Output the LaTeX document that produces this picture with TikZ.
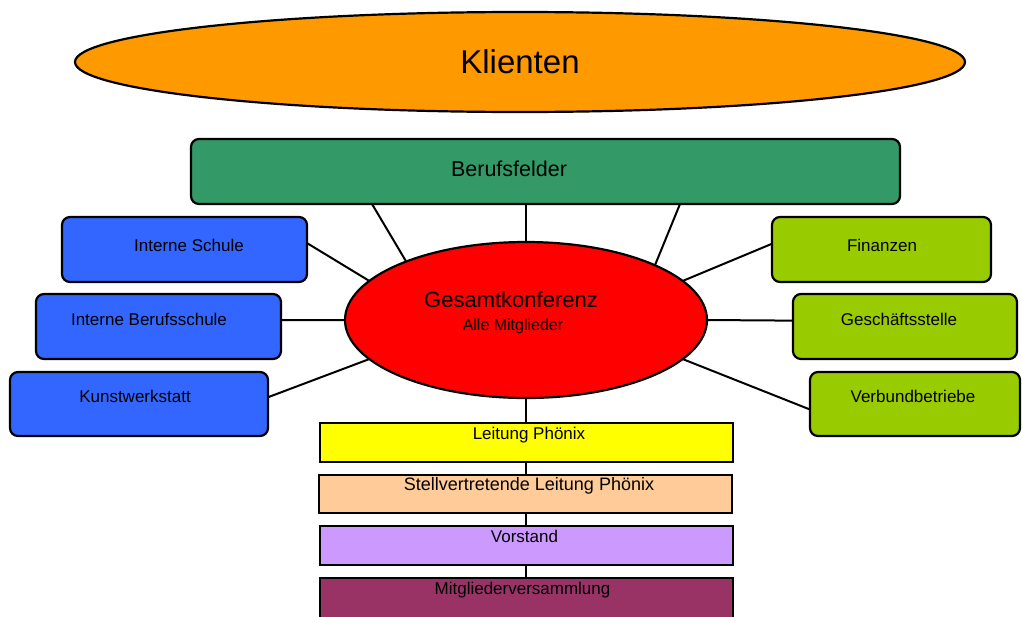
\documentclass[tikz,border=0pt]{standalone}
\usepackage{fontspec}
\setmainfont{Liberation Sans}
\usetikzlibrary{shapes.geometric,calc}
\definecolor{cOrange}{RGB}{255,153,0}
\definecolor{cGreen}{RGB}{51,153,102}
\definecolor{cBlue}{RGB}{51,102,255}
\definecolor{cLime}{RGB}{153,204,0}
\definecolor{cRed}{RGB}{255,0,0}
\definecolor{cYellow}{RGB}{255,255,0}
\definecolor{cPeach}{RGB}{255,204,153}
\definecolor{cLilac}{RGB}{204,153,255}
\definecolor{cPlum}{RGB}{153,51,102}
\begin{document}
\begin{tikzpicture}[x=1pt,y=-1pt,
  rbox/.style={draw=black, line width=2.2pt, rounded corners=8pt, inner sep=0pt, outer sep=0pt, anchor=north west},
  bar/.style={draw=black, line width=2.2pt, inner sep=0pt, outer sep=0pt, anchor=north west},
  oval/.style={ellipse, draw=black, line width=2.2pt, inner sep=0pt, outer sep=0pt},
  lbl/.style={anchor=base, inner sep=0pt, text=black, font=\fontsize{17}{20}\selectfont},
  big/.style={anchor=base, inner sep=0pt, text=black, font=\fontsize{21.5}{25}\selectfont},
  conn/.style={draw=black, line width=2pt}]
\useasboundingbox (0,0) rectangle (1022,616);
\clip (0,0) rectangle (1022,616);

% shapes
\node[oval, fill=cOrange, minimum width=890pt, minimum height=100pt,
      font=\fontsize{33}{38}\selectfont] (kl) at (520,62) {Klienten};

\node[rbox, fill=cGreen, minimum width=709pt, minimum height=65pt] (bf) at (191,139) {};
\node[big] (bft) at (509,176) {Berufsfelder};

\node[rbox, fill=cBlue, minimum width=245pt, minimum height=65pt] (is) at (62,217) {};
\node[rbox, fill=cBlue, minimum width=245pt, minimum height=65pt] (ib) at (36,294) {};
\node[rbox, fill=cBlue, minimum width=258pt, minimum height=64pt] (kw) at (10,372) {};
\node[lbl] (ist) at (189,251) {Interne Schule};
\node[lbl] (ibt) at (149,325) {Interne Berufsschule};
\node[lbl] (kwt) at (135,402) {Kunstwerkstatt};

\node[rbox, fill=cLime, minimum width=219pt, minimum height=65pt] (fi) at (772,217) {};
\node[rbox, fill=cLime, minimum width=224pt, minimum height=65pt] (gs) at (793,294) {};
\node[rbox, fill=cLime, minimum width=210pt, minimum height=64pt] (vb) at (810,372) {};
\node[lbl] (fit) at (882,251) {Finanzen};
\node[lbl] (gst) at (899,325) {Geschäftsstelle};
\node[lbl] (vbt) at (913,402) {Verbundbetriebe};

\node[oval, fill=cRed, minimum width=362pt, minimum height=156pt] (gk) at (526,320) {};
\node[big, font=\fontsize{22}{26}\selectfont] (gkt) at (511,307) {Gesamtkonferenz};
\node[lbl, font=\fontsize{16}{19}\selectfont] (gkt2) at (513,330) {Alle Mitglieder};

\node[bar, fill=cYellow, minimum width=413pt, minimum height=39pt] (lp) at (320,423) {};
\node[bar, fill=cPeach, minimum width=413pt, minimum height=38pt] (sl) at (319,475) {};
\node[bar, fill=cLilac, minimum width=413pt, minimum height=39pt] (vo) at (320,526) {};
\node[bar, fill=cPlum, minimum width=413pt, minimum height=50pt] (mv) at (320,578) {};
\node[lbl] (lpt) at (529,439) {Leitung Phönix};
\node[lbl, font=\fontsize{18}{21}\selectfont] (slt) at (529,490.5) {Stellvertretende Leitung Phönix};
\node[lbl] (vot) at (524.5,542) {Vorstand};
\node[lbl] (mvt) at (522.5,594) {Mitgliederversammlung};

% connector start points on Berufsfelder
\coordinate (bfl) at ($(bf.south west)+(181,0)$);
\coordinate (bfr) at ($(bf.south west)+(489,0)$);

\draw[conn] (bfl) -- (gk.154);
\draw[conn] (bf.south -| gk.north) -- (gk.north);
\draw[conn] (bfr) -- (gk.23);
\draw[conn] (is.3) -- (gk.166);
\draw[conn] (ib.3) -- (gk.west);
\draw[conn] (kw.3) -- (gk.194);
\draw[conn] (fi.177) -- (gk.14);
\draw[conn] (gs.177) -- (gk.east);
\draw[conn] (vb.183) -- (gk.346);
\draw[conn] (gk.south) -- (lp.north -| gk.south);
\draw[conn] (lp.south -| gk.south) -- (sl.north -| gk.south);
\draw[conn] (sl.south -| gk.south) -- (vo.north -| gk.south);
\draw[conn] (vo.south -| gk.south) -- (mv.north -| gk.south);
\end{tikzpicture}
\end{document}
